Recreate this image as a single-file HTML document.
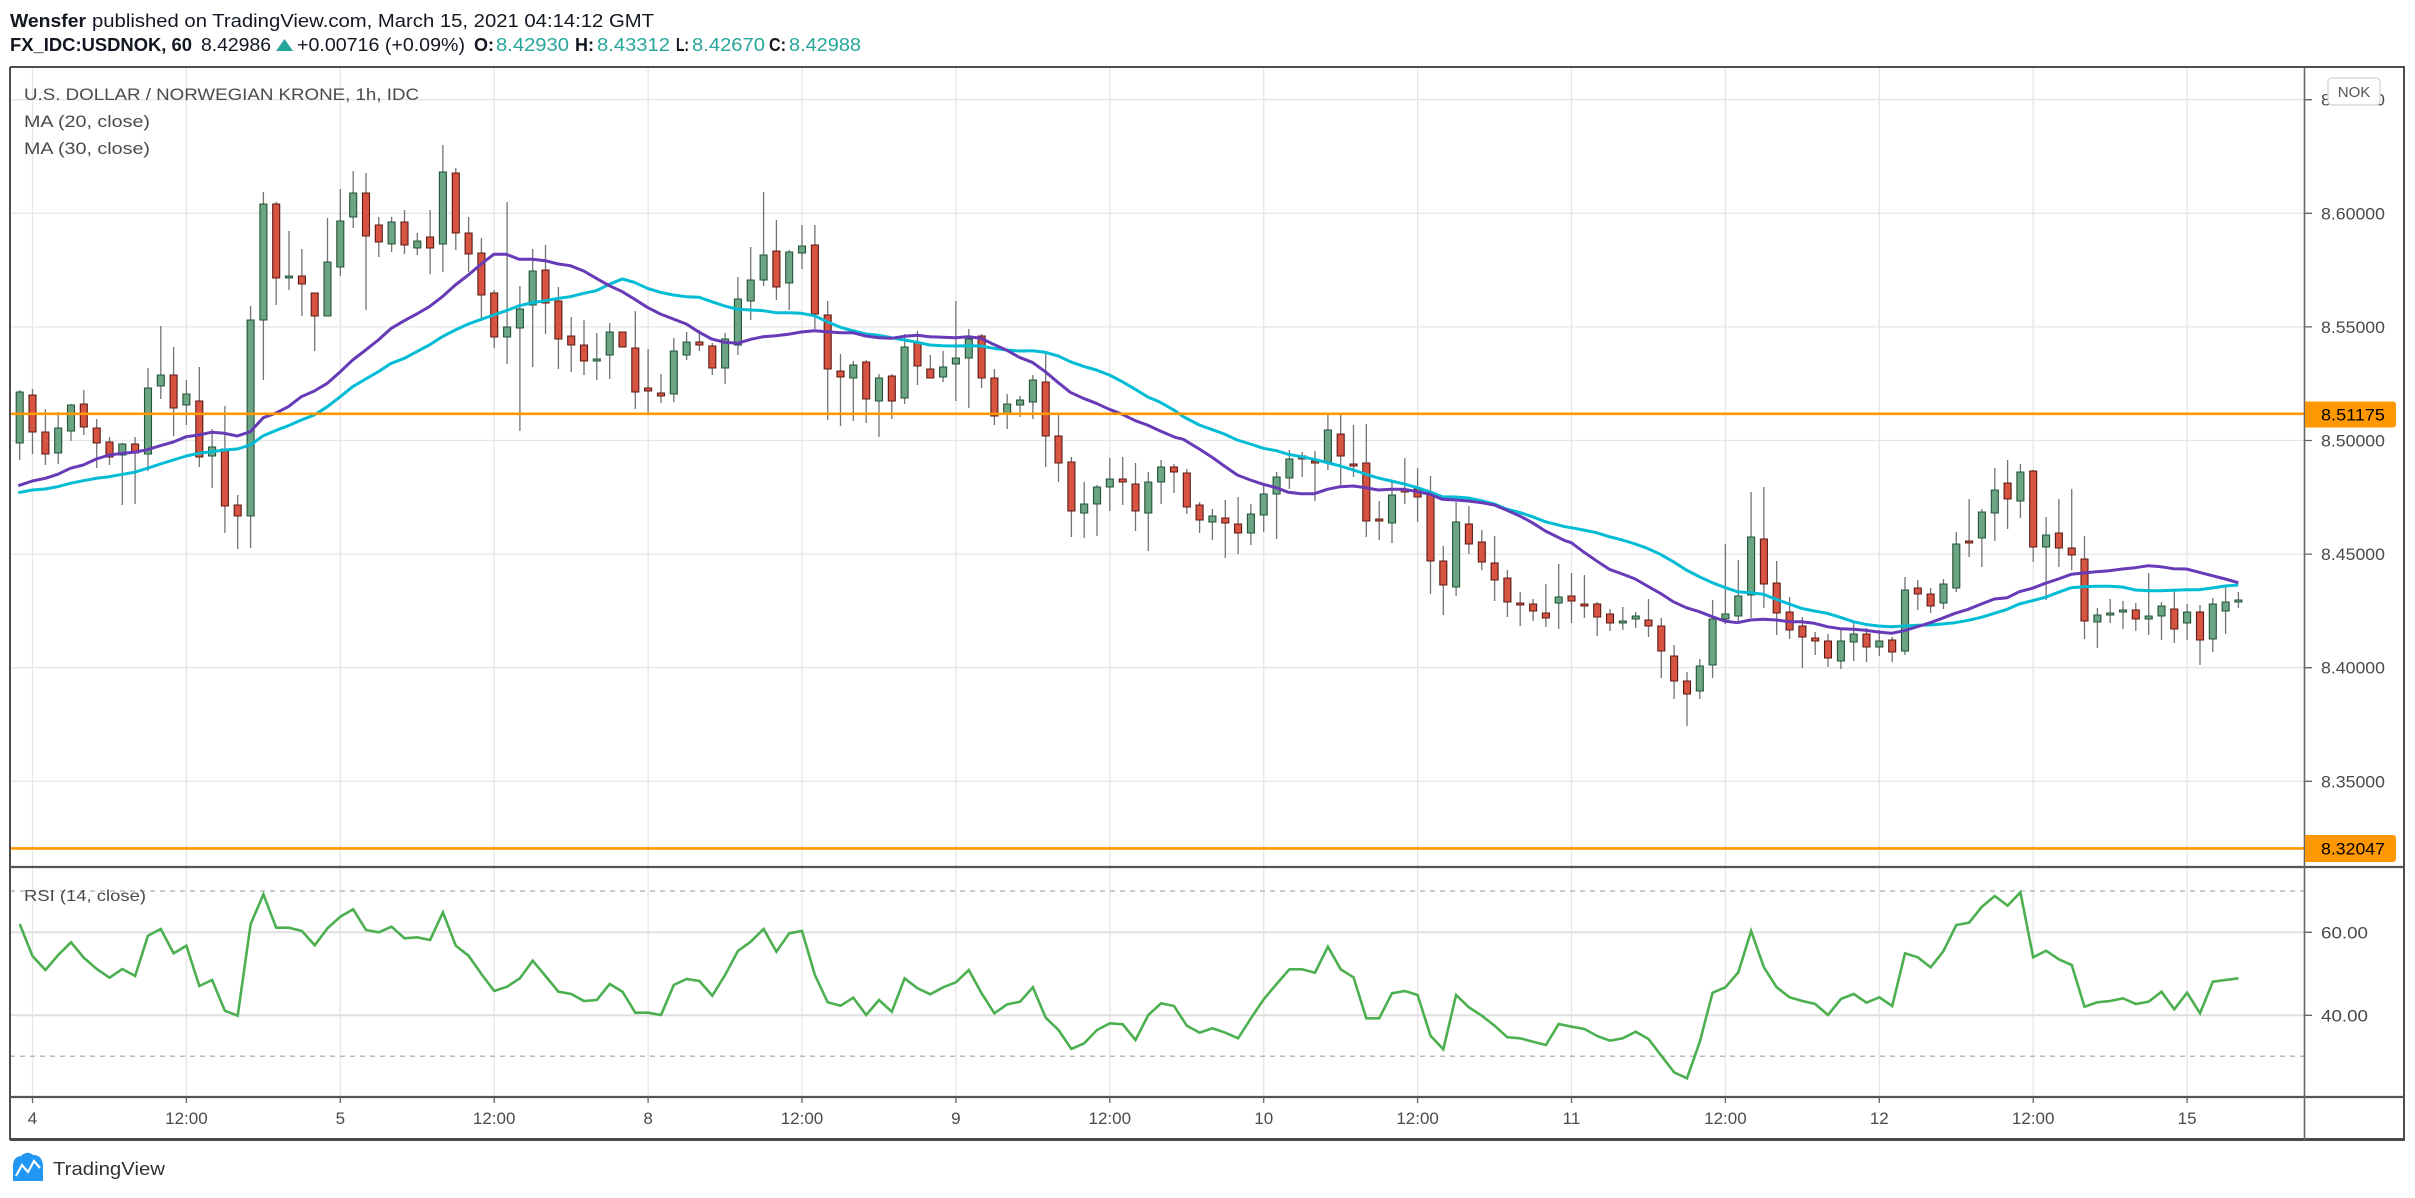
<!DOCTYPE html>
<html><head><meta charset="utf-8"><style>
html,body{margin:0;padding:0;background:#fff;}
svg{display:block;}
text{font-family:"Liberation Sans",Arial,sans-serif;}
</style></head><body>
<svg width="2415" height="1198" viewBox="0 0 2415 1198" xmlns="http://www.w3.org/2000/svg">
<rect x="0" y="0" width="2415" height="1198" fill="#fff"/>
<!-- header -->
<text x="10" y="27" font-size="18" font-weight="bold" fill="#131722" textLength="76" lengthAdjust="spacingAndGlyphs">Wensfer</text>
<text x="92" y="27" font-size="18" fill="#131722" textLength="562" lengthAdjust="spacingAndGlyphs">published on TradingView.com, March 15, 2021 04:14:12 GMT</text>
<text x="10" y="51" font-size="18" font-weight="bold" fill="#131722" textLength="182" lengthAdjust="spacingAndGlyphs">FX_IDC:USDNOK, 60</text>
<text x="201" y="51" font-size="18" fill="#131722" textLength="70" lengthAdjust="spacingAndGlyphs">8.42986</text>
<polygon points="276,51 293,51 284.5,39" fill="#26a69a"/>
<text x="297" y="51" font-size="18" fill="#131722" textLength="168" lengthAdjust="spacingAndGlyphs">+0.00716 (+0.09%)</text>
<text x="474" y="51" font-size="18" font-weight="bold" fill="#131722" textLength="20" lengthAdjust="spacingAndGlyphs">O:</text>
<text x="496" y="51" font-size="18" fill="#26a69a" textLength="73" lengthAdjust="spacingAndGlyphs">8.42930</text>
<text x="575" y="51" font-size="18" font-weight="bold" fill="#131722" textLength="19" lengthAdjust="spacingAndGlyphs">H:</text>
<text x="597" y="51" font-size="18" fill="#26a69a" textLength="73" lengthAdjust="spacingAndGlyphs">8.43312</text>
<text x="676" y="51" font-size="18" font-weight="bold" fill="#131722" textLength="13" lengthAdjust="spacingAndGlyphs">L:</text>
<text x="692" y="51" font-size="18" fill="#26a69a" textLength="73" lengthAdjust="spacingAndGlyphs">8.42670</text>
<text x="769" y="51" font-size="18" font-weight="bold" fill="#131722" textLength="17" lengthAdjust="spacingAndGlyphs">C:</text>
<text x="789" y="51" font-size="18" fill="#26a69a" textLength="72" lengthAdjust="spacingAndGlyphs">8.42988</text>

<!-- gridlines -->
<g stroke="#e6e6e6" stroke-width="1.3">
<path d="M10 99.7H2304M10 213.3H2304M10 326.9H2304M10 440.5H2304M10 554.1H2304M10 667.7H2304M10 781.3H2304"/>
<path d="M32.5 68V1096M186.4 68V1096M340.3 68V1096M494.2 68V1096M648.1 68V1096M802 68V1096M955.9 68V1096M1109.8 68V1096M1263.7 68V1096M1417.6 68V1096M1571.5 68V1096M1725.4 68V1096M1879.3 68V1096M2033.2 68V1096M2187.1 68V1096"/>
</g>
<path d="M10 932.3H2304M10 1015.3H2304" stroke="#e0e0e0" stroke-width="2"/>
<path d="M10 891H2304M10 1056.3H2304" stroke="#b8b8b8" stroke-width="1.5" stroke-dasharray="5 5"/>

<!-- legend texts -->
<text x="24" y="100" font-size="17" fill="#4a4a4a" textLength="395" lengthAdjust="spacingAndGlyphs">U.S. DOLLAR / NORWEGIAN KRONE, 1h, IDC</text>
<text x="24" y="127" font-size="17" fill="#4a4a4a" textLength="126" lengthAdjust="spacingAndGlyphs">MA (20, close)</text>
<text x="24" y="154" font-size="17" fill="#4a4a4a" textLength="126" lengthAdjust="spacingAndGlyphs">MA (30, close)</text>
<text x="24" y="901" font-size="16" fill="#4a4a4a" textLength="122" lengthAdjust="spacingAndGlyphs">RSI (14, close)</text>

<!-- wicks -->
<path fill="none" stroke="#737375" stroke-width="1.3" d="M19.7 390V460M32.5 389V454M45.4 409V465M58.2 412V464M71 404V441M83.8 390V435M96.7 419V468M109.5 437V465M122.3 443V505M135.1 437V504M148 368V471M160.8 326V399M173.6 347V436M186.4 380V425M199.3 367V467M212.1 429V488M224.9 406V533M237.7 495V549M250.6 306V548M263.4 192V380M276.2 202V305M289 231V290M301.9 249V316M314.7 293V351M327.5 218V316M340.3 189V276M353.2 171V228M366 173V310M378.8 217V257M391.6 217V252M404.5 210V254M417.3 233V255M430.1 210V274M442.9 145V272M455.8 168V250M468.6 217V272M481.4 238V321M494.2 290V348M507.1 202V364M519.9 286V431M532.7 249V367M545.5 245V334M558.4 287V369M571.2 317V372M584 320V375M596.8 333V380M609.7 323V379M622.5 332V347M635.3 311V409M648.1 349V413M661 374V403M673.8 338V402M686.6 332V360M699.4 330V351M712.3 343V375M725.1 333V384M737.9 277V355M750.7 247V320M763.6 192V286M776.4 220V300M789.2 250V310M802 225V269M814.9 225V329M827.7 301V420M840.5 354V426M853.3 361V421M866.2 360V423M879 374V437M891.8 374V419M904.6 334V404M917.5 331V385M930.3 355V378M943.1 351V382M955.9 301V401M968.8 329V408M981.6 334V388M994.4 369V425M1007.2 394V429M1020.1 396V417M1032.9 375V419M1045.7 354V467M1058.5 414V482M1071.4 457V537M1084.2 482V538M1097 485V536M1109.8 458V511M1122.7 457V505M1135.5 463V531M1148.3 472V551M1161.1 460V504M1174 464V493M1186.8 469V514M1199.6 502V533M1212.4 509V540M1225.3 500V558M1238.1 497V554M1250.9 504V545M1263.7 483V532M1276.6 472V539M1289.4 450V489M1302.2 452V477M1315 451V501M1327.9 415V470M1340.7 415V485M1353.5 425V477M1366.3 424V537M1379.2 501V540M1392 480V543M1404.8 458V504M1417.6 468V522M1430.5 476V594M1443.3 546V615M1456.1 502V596M1468.9 506V554M1481.8 530V570M1494.6 536V601M1507.4 570V617M1520.2 592V626M1533.1 599V621M1545.9 584V627M1558.7 564V629M1571.5 573V623M1584.4 575V618M1597.2 602V636M1610 609V631M1622.8 607V630M1635.7 612V628M1648.5 599V637M1661.3 618V678M1674.1 645V699M1687 672V726M1699.8 659V699M1712.6 600V678M1725.4 544V624M1738.3 560V623M1751.1 492V618M1763.9 487V608M1776.7 561V635M1789.6 597V639M1802.4 617V668M1815.2 632V655M1828 634V667M1840.9 629V669M1853.7 623V661M1866.5 628V662M1879.3 630V656M1892.2 637V662M1905 577V655M1917.8 580V610M1930.6 588V613M1943.5 579V609M1956.3 532V592M1969.1 499V557M1981.9 509V567M1994.8 468V541M2007.6 460V529M2020.4 464V518M2033.2 470V562M2046.1 517V600M2058.9 499V567M2071.7 489V570M2084.5 536V639M2097.4 608V648M2110.2 599V623M2123 601V629M2135.8 603V631M2148.7 573V635M2161.5 602V640M2174.3 591V643M2187.1 604V640M2200 605V665M2212.8 598V652M2225.6 585V634M2238.4 592V608"/>

<!-- green bodies -->
<path fill="#6ba583" stroke="#225437" stroke-width="1.1" d="M16.2 392h7v51h-7zM54.7 428h7v25h-7zM67.5 405h7v26h-7zM118.8 444h7v11h-7zM144.5 388h7v66h-7zM157.3 375h7v11h-7zM182.9 394h7v11h-7zM208.6 447h7v9h-7zM247.1 320h7v196h-7zM259.9 204h7v116h-7zM285.5 276h7v2h-7zM324 262h7v54h-7zM336.8 221h7v46h-7zM349.7 193h7v24h-7zM388.1 222h7v22h-7zM413.8 241h7v7h-7zM439.4 172h7v72h-7zM503.6 327h7v10h-7zM516.4 309h7v19h-7zM529.2 271h7v34h-7zM593.3 359h7v2h-7zM606.2 332h7v23h-7zM670.3 351h7v43h-7zM683.1 342h7v13h-7zM721.6 339h7v29h-7zM734.4 299h7v46h-7zM747.2 280h7v21h-7zM760.1 255h7v25h-7zM785.7 252h7v31h-7zM798.5 246h7v7h-7zM849.8 365h7v13h-7zM875.5 378h7v23h-7zM901.1 347h7v51h-7zM939.6 367h7v10h-7zM952.4 358h7v6h-7zM965.3 339h7v19h-7zM1003.7 404h7v9h-7zM1016.6 400h7v5h-7zM1029.4 380h7v22h-7zM1080.7 504h7v9h-7zM1093.5 487h7v17h-7zM1106.3 479h7v8h-7zM1144.8 482h7v31h-7zM1157.6 467h7v15h-7zM1208.9 516h7v6h-7zM1247.4 514h7v19h-7zM1260.2 494h7v21h-7zM1273.1 477h7v17h-7zM1285.9 459h7v19h-7zM1324.4 430h7v32h-7zM1388.5 495h7v28h-7zM1452.6 522h7v65h-7zM1555.2 597h7v6h-7zM1619.3 621h7v2h-7zM1632.2 616h7v3h-7zM1696.3 666h7v25h-7zM1709.1 619h7v46h-7zM1721.9 614h7v5h-7zM1734.8 596h7v20h-7zM1747.6 537h7v58h-7zM1837.4 641h7v20h-7zM1850.2 634h7v8h-7zM1875.8 641h7v6h-7zM1901.5 590h7v61h-7zM1940 584h7v19h-7zM1952.8 544h7v44h-7zM1978.4 512h7v26h-7zM1991.3 490h7v23h-7zM2016.9 472h7v29h-7zM2042.6 535h7v12h-7zM2093.9 615h7v7h-7zM2106.7 613h7v2h-7zM2119.5 610h7v2h-7zM2145.2 616h7v3h-7zM2158 606h7v10h-7zM2183.6 612h7v11h-7zM2209.3 604h7v35h-7zM2222.1 602h7v9h-7zM2234.9 600h7v2h-7z"/>

<!-- red bodies -->
<path fill="#d75442" stroke="#5b1a13" stroke-width="1.1" d="M29 395h7v37h-7zM41.9 432h7v22h-7zM80.3 404h7v23h-7zM93.2 428h7v15h-7zM106 442h7v15h-7zM131.6 444h7v9h-7zM170.1 375h7v33h-7zM195.8 401h7v56h-7zM221.4 449h7v57h-7zM234.2 505h7v11h-7zM272.7 204h7v74h-7zM298.4 276h7v8h-7zM311.2 293h7v23h-7zM362.5 193h7v43h-7zM375.3 225h7v17h-7zM401 222h7v23h-7zM426.6 237h7v11h-7zM452.3 173h7v60h-7zM465.1 233h7v21h-7zM477.9 253h7v42h-7zM490.7 293h7v44h-7zM542 270h7v33h-7zM554.9 301h7v38h-7zM567.7 336h7v9h-7zM580.5 345h7v16h-7zM619 332h7v15h-7zM631.8 348h7v44h-7zM644.6 388h7v3h-7zM657.5 393h7v3h-7zM695.9 342h7v3h-7zM708.8 346h7v22h-7zM772.9 251h7v36h-7zM811.4 245h7v69h-7zM824.2 315h7v54h-7zM837 371h7v6h-7zM862.7 362h7v37h-7zM888.3 376h7v25h-7zM914 343h7v23h-7zM926.8 369h7v9h-7zM978.1 336h7v42h-7zM990.9 378h7v38h-7zM1042.2 382h7v54h-7zM1055 436h7v27h-7zM1067.9 462h7v49h-7zM1119.2 479h7v3h-7zM1132 484h7v27h-7zM1170.5 467h7v5h-7zM1183.3 473h7v34h-7zM1196.1 505h7v15h-7zM1221.8 518h7v5h-7zM1234.6 524h7v9h-7zM1298.7 456h7v3h-7zM1311.5 461h7v2h-7zM1337.2 434h7v22h-7zM1350 464h7v2h-7zM1362.8 463h7v58h-7zM1375.7 519h7v2h-7zM1401.3 490h7v2h-7zM1414.1 489h7v8h-7zM1427 494h7v67h-7zM1439.8 561h7v24h-7zM1465.4 524h7v20h-7zM1478.3 542h7v20h-7zM1491.1 563h7v17h-7zM1503.9 578h7v24h-7zM1516.7 603h7v2h-7zM1529.6 604h7v7h-7zM1542.4 613h7v5h-7zM1568 596h7v5h-7zM1580.9 604h7v2h-7zM1593.7 604h7v13h-7zM1606.5 614h7v9h-7zM1645 620h7v6h-7zM1657.8 626h7v25h-7zM1670.6 656h7v25h-7zM1683.5 681h7v13h-7zM1760.4 539h7v45h-7zM1773.2 583h7v30h-7zM1786.1 612h7v18h-7zM1798.9 626h7v11h-7zM1811.7 638h7v3h-7zM1824.5 641h7v17h-7zM1863 634h7v13h-7zM1888.7 640h7v12h-7zM1914.3 588h7v6h-7zM1927.1 594h7v12h-7zM1965.6 541h7v2h-7zM2004.1 483h7v16h-7zM2029.7 471h7v76h-7zM2055.4 533h7v15h-7zM2068.2 548h7v7h-7zM2081 559h7v62h-7zM2132.3 610h7v9h-7zM2170.8 609h7v20h-7zM2196.5 612h7v28h-7z"/>

<!-- MA 30 (cyan) -->
<polyline fill="none" stroke="#00bcd4" stroke-width="3" stroke-linejoin="round" points="18.3,492.7 32.3,490 45.3,489 57.7,486.7 70.3,483.3 83.3,480.7 96.3,478.3 109.3,476.7 122.3,474.3 134.3,472.3 147.3,468.3 160.3,464 173.3,460 186.3,456 198.7,453.3 211.3,451.7 224.3,450 237.3,449 250.3,445 263.3,435.7 275.3,430.7 288.3,425.7 301.3,420 314.3,415 327.3,406.7 340.3,396.7 352.7,386.7 365.7,379 378.3,371.7 391.3,363.3 404.3,358.3 416.7,351.7 429.3,345 442.3,336.7 455.3,330 468.3,324 481.3,319.3 493.7,315 506.3,310.7 519.3,305.7 532.3,302.7 545.3,300.7 558.3,298.3 570.3,296.7 583.7,293.3 596.3,290.7 609.3,284.3 622.3,279 634.3,282.3 647.3,288.3 660.3,292.3 673.3,295 686.3,296.7 699.3,297.3 711.7,301.7 724.7,306 737.7,309.3 750.7,310 763.3,310.7 775.7,312.7 788.3,312.7 801.3,313.3 814.3,315.7 827.3,321.7 840.3,327.3 852.7,330.7 865.7,334 878.3,335.3 891.3,337.7 904.3,340 917.3,342.3 929.7,345 942.7,345.7 955.3,346 968.3,345.7 981.3,346 993.3,348.3 1006.3,350 1019.3,351 1032.3,350.7 1045.3,352.3 1058.3,356 1070.3,361.7 1083.3,366.3 1096.3,370 1109.3,375 1122.3,381.7 1135.3,389.3 1147.3,396.7 1160.3,402.3 1175,410.7 1183.3,416.7 1199.3,425 1211.3,429.3 1224.3,434 1237.3,440 1250.3,444 1263.3,448.3 1276.3,450.7 1288.3,454.3 1301.3,456.7 1314.3,459.3 1327.3,462.7 1340.3,466 1353.3,470 1365.3,474 1378.3,478 1391.3,481 1404.3,484 1417.3,487.7 1429.3,491.7 1442.3,496.7 1455.3,497 1468.3,498 1481.3,500.7 1494.3,504 1506.3,509 1519.3,512.3 1532.3,516.7 1545.3,521.7 1565,526.7 1571.3,527.7 1583.3,530 1596.3,532.7 1609.3,536.7 1622.3,540 1635.3,544 1647.3,548.3 1660.3,554.3 1673.3,561.7 1686.3,570 1699.3,576.7 1712.3,582.7 1724.3,587.3 1737.3,591.7 1750.3,592.7 1763.3,594.3 1776.3,599.3 1789.3,604 1801.3,608.3 1814.3,611 1827.3,613.3 1840.3,617.3 1853.3,621.7 1865.3,624.3 1878.3,626 1891.3,626.7 1904.3,626 1917.3,625.3 1930.3,625 1942.3,624 1955,622.7 1968.3,620.3 1981.3,617.3 1994.3,613.3 2007.3,609.3 2019.3,604 2032.3,600.7 2045.3,597.3 2058.3,592.3 2071.3,587.7 2083.3,586.7 2096.3,586.3 2109.3,586.3 2122.3,587 2135.3,590 2148.3,590.7 2160.3,590.7 2173.3,590.3 2186.3,589.7 2199.3,589.7 2212.3,588 2225.3,586 2238.3,585"/>

<!-- MA 20 (purple) -->
<polyline fill="none" stroke="#673ab7" stroke-width="3" stroke-linejoin="round" points="18.3,485.7 32.3,481 45.3,478.3 57.7,474.3 70.3,468.3 83.3,465 96.3,459 109.3,455 122.3,453.3 134.3,452.3 147.3,449.7 160.3,445.7 173.3,442 186.3,436.7 198.7,435 211.3,432.3 224.3,433.3 237.3,436 250.3,431.7 263.3,417.7 275.3,413.3 288.3,406.7 301.3,396.7 314.3,391 327.3,383.3 340.3,371.7 352.7,360 365.7,350 378.3,340 391.3,328.3 404.3,320.7 416.7,314 429.3,306.7 442.3,296.7 455.3,285 468.3,275 481.3,264 493.7,254.3 506.3,254.3 519.3,259.3 532.3,259.3 545.3,260.7 558.3,264 570.3,265.7 583.7,271 596.3,278.3 609.3,285.7 622.3,291.7 634.3,299 647.3,307.3 660.3,314 673.3,319 686.3,324 699.3,332.3 711.7,339 724.7,342.3 737.7,343.3 750.7,339.3 763.3,336.7 775.7,335.7 788.3,334.3 801.3,332 814.3,330.7 827.3,331.7 840.3,332.7 852.7,332.7 865.7,336 878.3,337.7 891.3,338.3 904.3,336.3 917.3,335.3 929.7,336.7 942.7,337.3 955.3,337.7 968.3,336.7 981.3,338.3 993.3,344.3 1006.3,350 1019.3,357.3 1032.3,362.3 1045.3,371.7 1058.3,382.7 1070.3,392.3 1083.3,398.3 1096.3,403.3 1109.3,409.3 1122.3,414.3 1135.3,420.7 1147.3,425 1160.3,431 1175,437.3 1183.3,439.3 1199.3,449 1211.3,456.7 1224.3,466 1237.3,475 1250.3,480 1263.3,484.3 1276.3,487.7 1288.3,492.3 1301.3,493.7 1314.3,493.7 1327.3,489.3 1340.3,486.7 1353.3,486 1365.3,487.7 1378.3,490 1391.3,489.3 1404.3,489.3 1417.3,491.7 1429.3,494 1442.3,499.3 1455.3,500 1468.3,501 1481.3,502.7 1494.3,505 1506.3,510 1519.3,515.7 1532.3,522.7 1545.3,531 1565,540.7 1571.3,542.7 1583.3,551.7 1596.3,560.7 1609.3,569.3 1622.3,574 1635.3,579 1647.3,586 1660.3,593.3 1673.3,601.7 1686.3,607.7 1699.3,611.7 1712.3,616.7 1724.3,621 1737.3,622.7 1750.3,620 1763.3,619.3 1776.3,620 1789.3,621.7 1801.3,621.7 1814.3,623.3 1827.3,626.7 1840.3,628.7 1853.3,629.3 1865.3,630.3 1878.3,632 1891.3,633.3 1904.3,630.7 1917.3,626.7 1930.3,622.7 1942.3,618.3 1955,613.3 1968.3,609.3 1981.3,604 1994.3,599 2007.3,597.7 2019.3,591.7 2032.3,588.3 2045.3,583.3 2058.3,579 2071.3,574.3 2083.3,573 2096.3,571.7 2109.3,570.7 2122.3,569 2135.3,567.7 2148.3,565.7 2160.3,566.7 2173.3,568.7 2186.3,569 2199.3,572.3 2212.3,575.7 2225.3,579 2238.3,582.7"/>

<!-- horizontal orange lines -->
<path d="M10 413.8H2304M10 848.4H2304" stroke="#ff9800" stroke-width="2.6"/>

<!-- RSI -->
<polyline fill="none" stroke="#4caf50" stroke-width="2.6" stroke-linejoin="miter" points="19.7,924 32.5,956 45.4,970 58.2,955 71,942.3 83.8,957.7 96.7,969 109.5,977.7 122.3,969 135.1,976 148,935.7 160.8,929 173.6,953.3 186.4,945.7 199.3,986 212.1,980 224.9,1010.7 237.7,1015.7 250.6,924.3 263.4,894.3 276.2,927.7 289,927.7 301.9,931 314.7,945.3 327.5,928.3 340.3,916.7 353.2,909.3 366,930 378.8,932.3 391.6,926.7 404.5,938.3 417.3,937.3 430.1,940 442.9,912.3 455.8,945.7 468.6,955.7 481.4,974 494.2,991 507.1,986.7 519.9,978.3 532.7,960.7 545.5,976 558.4,991.7 571.2,994 584,1001 596.8,1000 609.7,984 622.5,991.7 635.3,1012.7 648.1,1012.7 661,1015 673.8,985 686.6,979 699.4,981 712.3,995.7 725.1,975 737.9,951 750.7,941.7 763.6,929 776.4,951.7 789.2,933.3 802,931 814.9,975 827.7,1002.3 840.5,1005.7 853.3,997.7 866.2,1015 879,1000 891.8,1011.7 904.6,978.3 917.5,988.3 930.3,994.3 943.1,987.3 955.9,982.3 968.8,970 981.6,993.3 994.4,1013.3 1007.2,1004.3 1020.1,1001.7 1032.9,987.3 1045.7,1017.7 1058.5,1030 1071.4,1049 1084.2,1043.3 1097,1030 1109.8,1023.3 1122.7,1024.3 1135.5,1040 1148.3,1015 1161.1,1003.3 1174,1006 1186.8,1025.7 1199.6,1032.7 1212.4,1028.3 1225.3,1032.7 1238.1,1038.3 1250.9,1018.3 1263.7,999.3 1276.6,984 1289.4,969.3 1302.2,969.3 1315,972.7 1327.9,946.7 1340.7,969.3 1353.5,977.3 1366.3,1018.3 1379.2,1018.3 1392,993.3 1404.8,991 1417.6,995 1430.5,1035.7 1443.3,1049.3 1456.1,995 1468.9,1007.3 1481.8,1015.7 1494.6,1025.7 1507.4,1037.3 1520.2,1038.3 1533.1,1041.7 1545.9,1045 1558.7,1024 1571.5,1026.7 1584.4,1029 1597.2,1036 1610,1040.7 1622.8,1038.3 1635.7,1031.7 1648.5,1039 1661.3,1055.7 1674.1,1072.3 1687,1078.3 1699.8,1041.7 1712.6,992.7 1725.4,987.3 1738.3,972.3 1751.1,931 1763.9,967.3 1776.7,987.3 1789.6,997.3 1802.4,1001 1815.2,1004 1828,1015 1840.9,999 1853.7,994 1866.5,1002.7 1879.3,997.3 1892.2,1006 1905,953.3 1917.8,957.3 1930.6,967.3 1943.5,951 1956.3,925 1969.1,922.7 1981.9,906.7 1994.8,896 2007.6,905.7 2020.4,892.3 2033.2,957.3 2046.1,950.7 2058.9,959.3 2071.7,965 2084.5,1006.7 2097.4,1002.3 2110.2,1001 2123,998.3 2135.8,1004 2148.7,1001.7 2161.5,991.7 2174.3,1009.3 2187.1,992.7 2200,1013.3 2212.8,981.7 2225.6,980 2238.4,978.3"/>

<!-- frame -->
<g fill="none">
<path d="M10 67H2405M10 67V1140M2404 67V1140" stroke="#4d4d4d" stroke-width="2"/>
<path d="M10 867H2404M10 1097H2404" stroke="#555" stroke-width="2.2"/>
<path d="M10 1139.5H2405" stroke="#4a4a4a" stroke-width="3"/>
<path d="M2304.5 67V1140" stroke="#666" stroke-width="1.6"/>
<path d="M2305 99.7h7M2305 213.3h7M2305 326.9h7M2305 440.5h7M2305 554.1h7M2305 667.7h7M2305 781.3h7M2305 932.3h7M2305 1015.3h7" stroke="#666" stroke-width="1.3"/>
<path d="M32.5 1097v6M186.4 1097v6M340.3 1097v6M494.2 1097v6M648.1 1097v6M802 1097v6M955.9 1097v6M1109.8 1097v6M1263.7 1097v6M1417.6 1097v6M1571.5 1097v6M1725.4 1097v6M1879.3 1097v6M2033.2 1097v6M2187.1 1097v6" stroke="#666" stroke-width="1.3"/>
</g>

<!-- price axis labels -->
<g font-size="17" fill="#4a4a4a">
<text x="2321" y="105.7" textLength="64" lengthAdjust="spacingAndGlyphs">8.65000</text>
<text x="2321" y="219.3" textLength="64" lengthAdjust="spacingAndGlyphs">8.60000</text>
<text x="2321" y="333" textLength="64" lengthAdjust="spacingAndGlyphs">8.55000</text>
<text x="2321" y="446.5" textLength="64" lengthAdjust="spacingAndGlyphs">8.50000</text>
<text x="2321" y="560" textLength="64" lengthAdjust="spacingAndGlyphs">8.45000</text>
<text x="2321" y="673.7" textLength="64" lengthAdjust="spacingAndGlyphs">8.40000</text>
<text x="2321" y="787.3" textLength="64" lengthAdjust="spacingAndGlyphs">8.35000</text>
<text x="2321" y="938.3" textLength="47" lengthAdjust="spacingAndGlyphs">60.00</text>
<text x="2321" y="1021.3" textLength="47" lengthAdjust="spacingAndGlyphs">40.00</text>
</g>
<rect x="2328" y="78" width="52" height="27" rx="4" fill="#fff" stroke="#d0d0d0" stroke-width="1.2"/>
<text x="2354" y="97" font-size="15" fill="#555" text-anchor="middle">NOK</text>
<path d="M2305 401.5H2393a3 3 0 0 1 3 3V424.5a3 3 0 0 1 -3 3H2305Z" fill="#ff9800"/>
<text x="2321" y="420.5" font-size="17" fill="#000" textLength="64" lengthAdjust="spacingAndGlyphs">8.51175</text>
<path d="M2305 835H2393a3 3 0 0 1 3 3V859a3 3 0 0 1 -3 3H2305Z" fill="#ff9800"/>
<text x="2321" y="854.5" font-size="17" fill="#000" textLength="64" lengthAdjust="spacingAndGlyphs">8.32047</text>

<!-- time axis labels -->
<g font-size="17" fill="#4a4a4a" text-anchor="middle">
<text x="32.5" y="1124">4</text>
<text x="186.4" y="1124">12:00</text>
<text x="340.3" y="1124">5</text>
<text x="494.2" y="1124">12:00</text>
<text x="648.1" y="1124">8</text>
<text x="802" y="1124">12:00</text>
<text x="955.9" y="1124">9</text>
<text x="1109.8" y="1124">12:00</text>
<text x="1263.7" y="1124">10</text>
<text x="1417.6" y="1124">12:00</text>
<text x="1571.5" y="1124">11</text>
<text x="1725.4" y="1124">12:00</text>
<text x="1879.3" y="1124">12</text>
<text x="2033.2" y="1124">12:00</text>
<text x="2187.1" y="1124">15</text>
</g>

<!-- TradingView logo -->
<path d="M13 1181V1166Q13 1157 21 1156Q27 1150 33 1155Q42 1155 43 1165V1181Z" fill="#2196f3"/>
<polyline points="16,1176 22,1165 28,1172 34,1161 40,1168" fill="none" stroke="#fff" stroke-width="2.2"/>
<text x="53" y="1175" font-size="18" fill="#333" textLength="112" lengthAdjust="spacingAndGlyphs">TradingView</text>
</svg>
</body></html>
